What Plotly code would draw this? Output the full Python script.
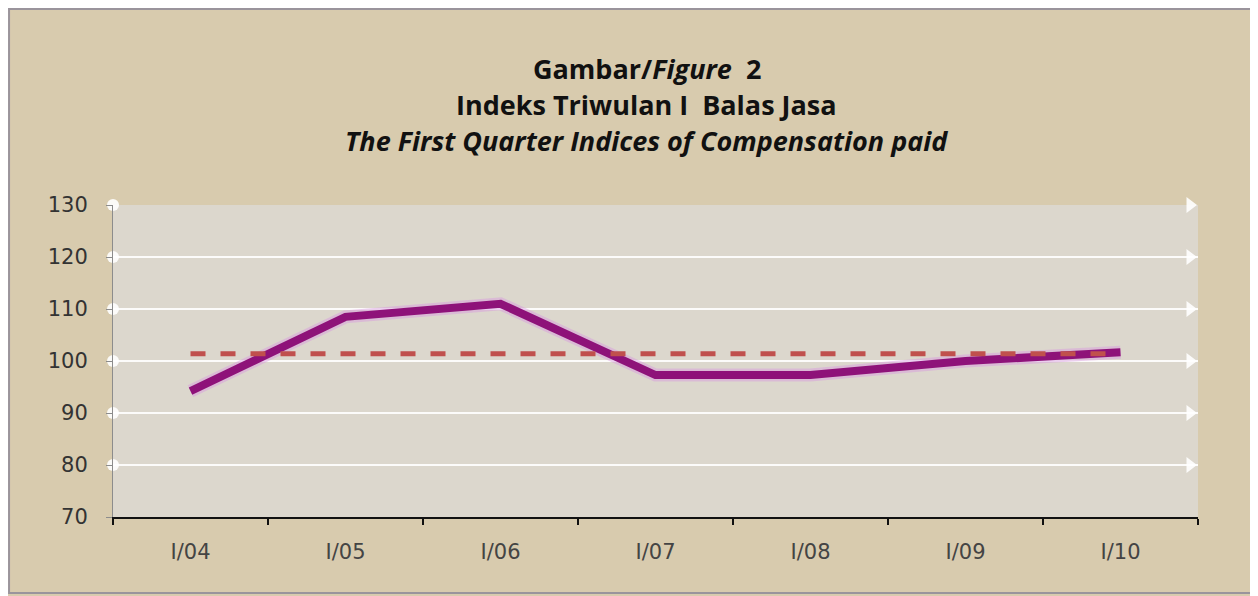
import plotly.graph_objects as go

categories = ["I/04", "I/05", "I/06", "I/07", "I/08", "I/09", "I/10"]
index_values = [94.2, 108.5, 111.0, 97.3, 97.3, 100.0, 101.7]
average_values = [101.4, 101.4, 101.4, 101.4, 101.4, 101.4, 101.4]
y_ticks = [70, 80, 90, 100, 110, 120, 130]
title_lines = [
    "<b>Gambar/<i>Figure</i>  2</b>",
    "<b>Indeks Triwulan I  Balas Jasa</b>",
    "<b><i>The First Quarter Indices of Compensation paid</i></b>",
]

fig = go.Figure()

# soft glow under main line
fig.add_trace(go.Scatter(
    x=categories, y=index_values, mode="lines",
    line=dict(color="rgba(215,150,225,0.45)", width=13),
    hoverinfo="skip", showlegend=False))
fig.add_trace(go.Scatter(
    x=categories, y=index_values, mode="lines",
    line=dict(color="#8e1279", width=8),
    name="Indeks", showlegend=False))
fig.add_trace(go.Scatter(
    x=categories, y=average_values, mode="lines",
    line=dict(color="#c0504d", width=5, dash="dash"),
    name="Rata-rata", showlegend=False))

# decorative gridline end markers
deco = y_ticks[1:]
fig.add_trace(go.Scatter(
    x=[0] * len(deco), y=deco, xaxis="x2", mode="markers",
    marker=dict(symbol="circle", size=12, color="rgba(255,255,255,0.9)"),
    cliponaxis=False, hoverinfo="skip", showlegend=False))
fig.add_trace(go.Scatter(
    x=[0.9926] * len(deco), y=deco, xaxis="x2", mode="markers",
    marker=dict(symbol="triangle-right", size=14, color="rgba(255,255,255,0.9)"),
    cliponaxis=False, hoverinfo="skip", showlegend=False))

annotations = []
for text, ypos in zip(title_lines, [1.4391, 1.3237, 1.2083]):
    annotations.append(dict(
        text=text, xref="paper", yref="paper", x=0.492, y=ypos,
        xanchor="center", yanchor="middle", showarrow=False,
        font=dict(size=27, color="#111111", family="Open Sans, sans-serif")))

fig.update_layout(
    width=1258, height=596,
    paper_bgcolor="#d8cbae",
    plot_bgcolor="#dcd7cd",
    margin=dict(l=105, r=68, t=197, b=87),
    font=dict(family="DejaVu Sans, sans-serif", color="#333333"),
    annotations=annotations,
    xaxis=dict(
        type="category", categoryorder="array", categoryarray=categories,
        tickson="boundaries", ticks="outside", ticklen=6, tickwidth=2, tickcolor="#111111",
        showline=True, linecolor="#111111", linewidth=2,
        showgrid=False, range=[-0.5, 6.5], ticklabelstandoff=15,
        tickfont=dict(size=21, color="#444444", family="DejaVu Sans, sans-serif"),
    ),
    xaxis2=dict(overlaying="x", range=[0, 1], visible=False),
    yaxis=dict(
        range=[70, 130], tickvals=y_ticks,
        ticks="outside", ticklen=6, tickcolor="#8c8c8c",
        showline=True, linecolor="#8c8c8c", linewidth=1,
        showgrid=True, gridcolor="rgba(255,255,255,0.9)", gridwidth=1.5,
        zeroline=False, ticklabelstandoff=14,
        tickfont=dict(size=21, color="#333333", family="DejaVu Sans, sans-serif"),
    ),
    shapes=[dict(type="rect", xref="paper", yref="paper", x0=-0.0958, x1=1.0516,
                 y0=-0.2436, y1=1.628, line=dict(color="#9a949c", width=2),
                 fillcolor="rgba(0,0,0,0)", layer="below")],
)

fig.write_html("out.html")
